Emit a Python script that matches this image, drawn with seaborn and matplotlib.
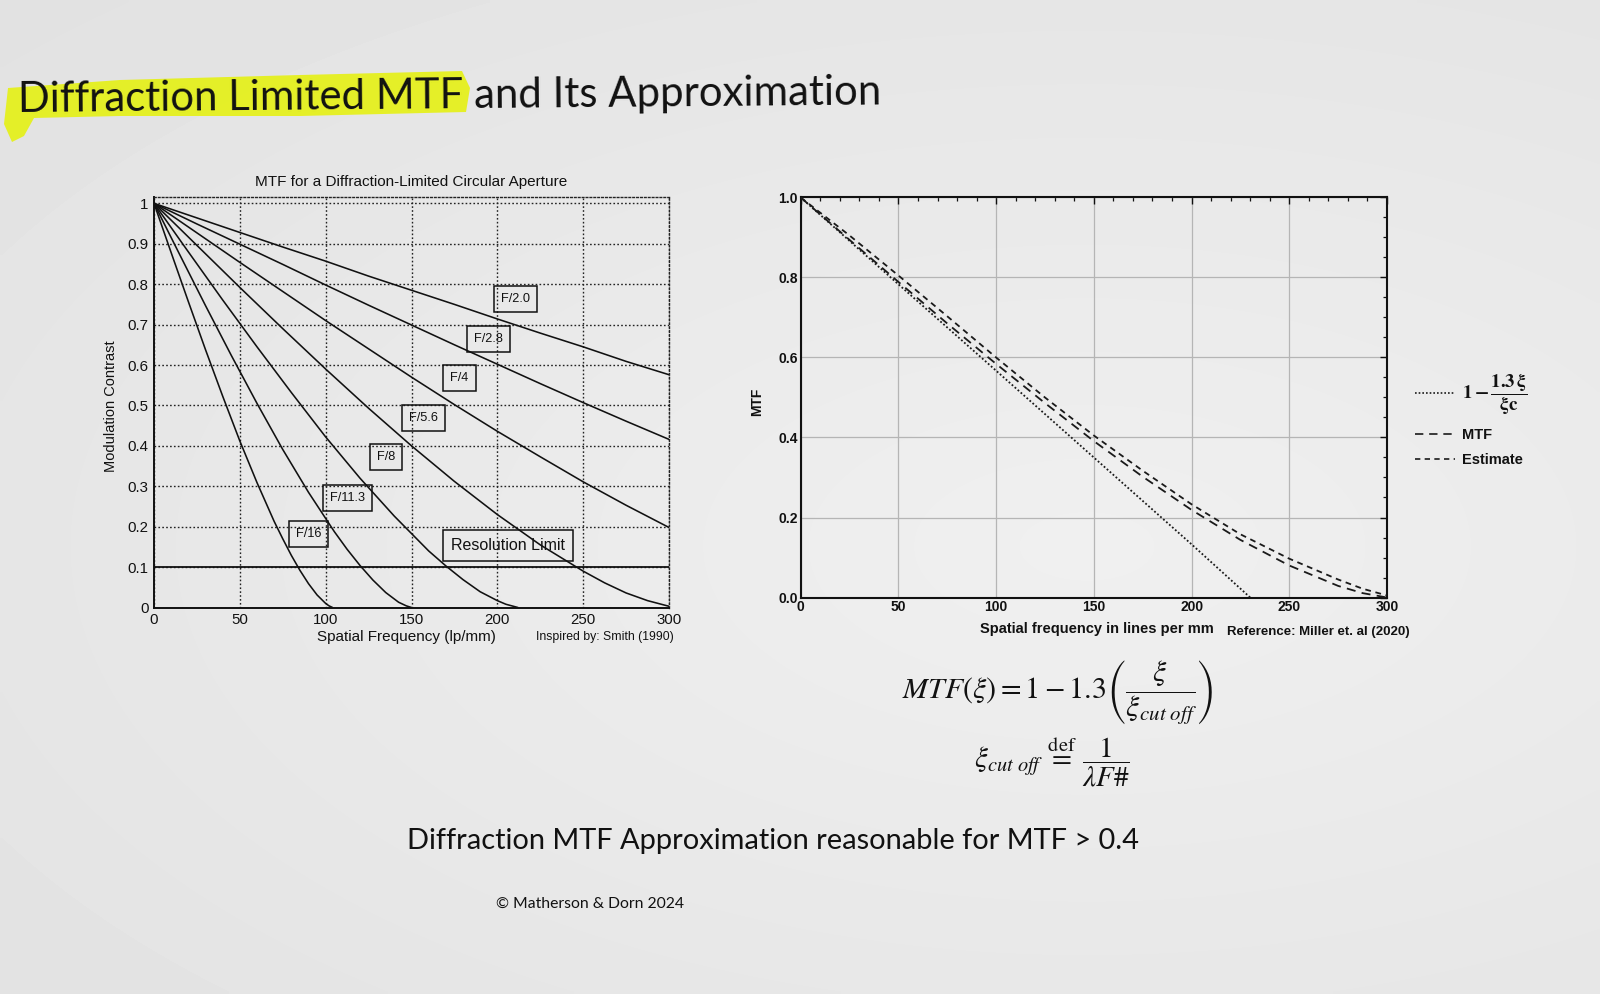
import numpy as np
import pandas as pd
import matplotlib
matplotlib.use("Agg")
import matplotlib.pyplot as plt
import seaborn as sns
from matplotlib.lines import Line2D
from matplotlib.patches import Polygon
from matplotlib.ticker import MultipleLocator

# ---------------- data ----------------
# Left chart: MTF for a diffraction-limited circular aperture
f_labels = ["F/2.0", "F/2.8", "F/4", "F/5.6", "F/8", "F/11.3", "F/16"]

freq_25 = [0, 25, 50, 75, 100, 125, 150, 175, 200, 225, 250, 275, 300]
mtf_f20 = [1.0, 0.964, 0.928, 0.892, 0.857, 0.820, 0.785, 0.750, 0.714, 0.679, 0.645, 0.609, 0.576]
mtf_f28 = [1.0, 0.949, 0.899, 0.849, 0.798, 0.748, 0.699, 0.650, 0.602, 0.554, 0.507, 0.461, 0.416]
mtf_f4 = [1.0, 0.927, 0.854, 0.782, 0.710, 0.640, 0.570, 0.502, 0.436, 0.373, 0.311, 0.253, 0.198]

freq_f56 = [0, 25, 50, 75, 100, 125, 150, 175, 200, 225, 250, 262.5, 275, 287.5, 300]
mtf_f56 = [1.0, 0.896, 0.792, 0.690, 0.590, 0.493, 0.400, 0.312, 0.230, 0.155, 0.090,
           0.061, 0.036, 0.017, 0.003]

freq_f8 = [0, 20, 40, 60, 80, 100, 120, 140, 160, 170, 180, 190, 200, 205, 212]
mtf_f8 = [1.0, 0.880, 0.761, 0.645, 0.532, 0.422, 0.320, 0.226, 0.140, 0.103, 0.069,
          0.039, 0.017, 0.008, 0.0]

freq_f113 = [0, 15, 30, 45, 60, 75, 90, 105, 112.5, 120, 127.5, 135, 142.5, 147, 150]
mtf_f113 = [1.0, 0.873, 0.747, 0.624, 0.505, 0.391, 0.285, 0.188, 0.144, 0.104, 0.068,
            0.037, 0.013, 0.004, 0.0]

freq_f16 = [0, 10, 20, 30, 40, 50, 60, 70, 75, 80, 85, 90, 95, 100, 102, 104]
mtf_f16 = [1.0, 0.878, 0.757, 0.638, 0.523, 0.412, 0.309, 0.213, 0.170, 0.129, 0.092,
           0.059, 0.031, 0.010, 0.004, 0.0]

resolution_limit = 0.1

# Right chart: MTF, estimate and linear approximation
approx_label = r"$\mathbf{1-\dfrac{1.3\,\xi}{\xi c}}$"
freq_lin = [0, 50, 100, 150, 200, 230]
mtf_lin = [1.0, 0.783, 0.567, 0.350, 0.133, 0.0]

freq_r = [0, 25, 50, 75, 100, 125, 150, 175, 200, 225, 250, 275, 287.5, 300]
mtf_true = [1.0, 0.894, 0.789, 0.685, 0.584, 0.486, 0.391, 0.302, 0.219, 0.144, 0.080,
            0.029, 0.011, 0.0]
mtf_est = [1.0, 0.905, 0.805, 0.703, 0.600, 0.500, 0.405, 0.317, 0.233, 0.158, 0.097,
           0.045, 0.022, 0.005]

# ---------------- figure ----------------
W, H = 1600, 994
sns.set_theme(style="white")
plt.rcParams["font.family"] = ["Liberation Sans", "DejaVu Sans"]
plt.rcParams["mathtext.fontset"] = "stix"

fig = plt.figure(figsize=(16, 9.94), dpi=100)
fig.patch.set_facecolor("#e6e6e6")

# photographed slide background (soft gradient)
bg = fig.add_axes([0, 0, 1, 1], zorder=-10)
yy, xx = np.mgrid[0:1:200j, 0:1:320j]
shade = 0.94 - 0.065 * np.sqrt(((xx - 0.68) / 1.1) ** 2 + ((yy - 0.55) / 0.9) ** 2)
bg.imshow(shade, cmap="gray", vmin=0, vmax=1, aspect="auto", extent=[0, 1, 0, 1],
          interpolation="bilinear")
bg.set_axis_off()


def fx(px):
    return px / W


def fy(py):
    return 1 - py / H


# title highlight and title
hl = [(8, 88), (120, 80), (300, 75), (462, 71), (470, 88), (466, 112), (300, 116),
      (120, 116), (34, 118), (24, 136), (12, 142), (4, 124)]
fig.patches.append(Polygon([(fx(a), fy(b)) for a, b in hl], closed=True,
                           transform=fig.transFigure, facecolor="#e5f01e",
                           edgecolor="none", alpha=0.95, zorder=0))
fig.text(fx(18), fy(112), "Diffraction Limited MTF and Its Approximation",
         fontsize=30.2, family=["Lato", "DejaVu Sans"], color="#111111",
         ha="left", va="baseline", rotation=0.5, zorder=2)

# ---------------- left chart ----------------
axL = fig.add_axes([fx(154), fy(607.5), fx(669) - fx(154), (607.5 - 197.3) / H])
axL.set_facecolor("none")

frames = []
curve_x = [freq_25, freq_25, freq_25, freq_f56, freq_f8, freq_f113, freq_f16]
curve_y = [mtf_f20, mtf_f28, mtf_f4, mtf_f56, mtf_f8, mtf_f113, mtf_f16]
for lab, xs, ys in zip(f_labels, curve_x, curve_y):
    frames.append(pd.DataFrame({"freq": xs, "mtf": ys, "curve": lab}))
df_left = pd.concat(frames, ignore_index=True)

sns.lineplot(data=df_left, x="freq", y="mtf", units="curve", estimator=None,
             color="#111111", linewidth=1.15, sort=False, legend=False, ax=axL, zorder=3)

axL.set_xlim(0, 300)
axL.set_ylim(0, 1.015)
axL.xaxis.set_major_locator(MultipleLocator(50))
axL.set_yticks([0, 0.1, 0.2, 0.3, 0.4, 0.5, 0.6, 0.7, 0.8, 0.9, 1.0])
axL.set_yticklabels(["0", "0.1", "0.2", "0.3", "0.4", "0.5", "0.6", "0.7", "0.8", "0.9", "1"])
axL.grid(True, color="#222222", linestyle=(0, (1.2, 1.6)), linewidth=1.0)
axL.axhline(resolution_limit, color="#111111", linewidth=1.3, zorder=2)
for s in ["left", "bottom"]:
    axL.spines[s].set_color("#111111")
    axL.spines[s].set_linewidth(1.4)
for s in ["top", "right"]:
    axL.spines[s].set_color("#222222")
    axL.spines[s].set_linewidth(1.0)
    axL.spines[s].set_linestyle((0, (1.2, 1.6)))
axL.tick_params(axis="both", labelsize=10.8, colors="#111111", length=3, direction="in", pad=4)
axL.set_xlabel("Spatial Frequency (lp/mm)", fontsize=11, color="#111111")
axL.xaxis.set_label_coords(0.491, -0.055)
axL.set_ylabel("Modulation Contrast", fontsize=10.5, color="#111111")
axL.yaxis.set_label_coords(-0.07, 0.49)
axL.set_title("MTF for a Diffraction-Limited Circular Aperture", fontsize=11,
              color="#111111", pad=8)
axL.text(0.876, -0.072, "Inspired by: Smith (1990)", transform=axL.transAxes,
         fontsize=8.8, ha="center", va="center", color="#111111")

label_pos = [(210.5, 0.764), (195, 0.664), (178, 0.569), (157, 0.470),
             (135, 0.373), (112.5, 0.270), (90, 0.182)]
for lab, (lx, ly) in zip(f_labels, label_pos):
    axL.text(lx, ly, lab, fontsize=9.2, ha="center", va="center", color="#111111", zorder=5,
             bbox=dict(boxstyle="square,pad=0.55", facecolor="none", edgecolor="#111111",
                       linewidth=1.1))
axL.text(206, 0.154, "Resolution Limit", fontsize=11.5, ha="center", va="center",
         color="#111111", zorder=5,
         bbox=dict(boxstyle="square,pad=0.5", facecolor="none", edgecolor="#111111",
                   linewidth=1.1))

# ---------------- right chart ----------------
axR = fig.add_axes([fx(800.7), fy(597.5), fx(1387) - fx(800.7), (597.5 - 197.5) / H])
axR.set_facecolor("none")

series_names = ["approx", "MTF", "Estimate"]
df_right = pd.concat([
    pd.DataFrame({"freq": freq_lin, "mtf": mtf_lin, "series": series_names[0]}),
    pd.DataFrame({"freq": freq_r, "mtf": mtf_true, "series": series_names[1]}),
    pd.DataFrame({"freq": freq_r, "mtf": mtf_est, "series": series_names[2]}),
], ignore_index=True)
dash_map = {"approx": (1, 1.2), "MTF": (5, 3.5), "Estimate": (3.2, 2.6)}
sns.lineplot(data=df_right, x="freq", y="mtf", style="series", dashes=dash_map,
             color="#1a1a1a", linewidth=1.3, estimator=None, legend=False, ax=axR, zorder=3)

axR.set_xlim(0, 300)
axR.set_ylim(0, 1.0)
axR.xaxis.set_major_locator(MultipleLocator(50))
axR.xaxis.set_minor_locator(MultipleLocator(10))
axR.yaxis.set_major_locator(MultipleLocator(0.2))
axR.yaxis.set_minor_locator(MultipleLocator(0.05))
axR.set_yticks([0, 0.2, 0.4, 0.6, 0.8, 1.0])
axR.set_yticklabels(["0.0", "0.2", "0.4", "0.6", "0.8", "1.0"])
axR.grid(True, which="major", color="#b5b5b5", linewidth=0.9)
for s in axR.spines.values():
    s.set_color("#111111")
    s.set_linewidth(1.5)
narrow = ["Liberation Sans Narrow", "Liberation Sans", "DejaVu Sans"]
axR.tick_params(axis="both", which="both", direction="in", top=True, right=True,
                colors="#111111")
axR.tick_params(axis="both", which="major", length=5, width=1.0, labelsize=10, pad=2)
axR.tick_params(axis="both", which="minor", length=3, width=0.9)
for lbl in axR.get_xticklabels() + axR.get_yticklabels():
    lbl.set_family(narrow)
    lbl.set_fontweight("bold")
axR.set_xlabel("Spatial frequency in lines per mm", fontsize=10.5, family=narrow,
               fontweight="bold", color="#111111")
axR.xaxis.set_label_coords(0.506, -0.062)
axR.set_ylabel("MTF", fontsize=10, family=narrow, fontweight="bold", color="#111111")
axR.yaxis.set_label_coords(-0.062, 0.49)
axR.text(0.883, -0.086, "Reference: Miller et. al (2020)", transform=axR.transAxes,
         fontsize=9.5, family=narrow, fontweight="bold", ha="center", va="center",
         color="#111111")

handles = [Line2D([], [], color="#1a1a1a", lw=1.2, linestyle=(0, dash_map[n]))
           for n in series_names]
leg = fig.legend(handles, [approx_label, "MTF", "Estimate"], loc="upper left",
                 bbox_to_anchor=(fx(1402), fy(358)), frameon=False, handlelength=2.7,
                 handletextpad=0.5, labelspacing=0.75,
                 prop={"family": narrow, "weight": "bold", "size": 10.5})
for t in leg.get_texts():
    t.set_color("#111111")
leg.get_texts()[0].set_fontsize(13.5)

# ---------------- equations and captions ----------------
fig.text(fx(1058), fy(693),
         r"$MTF(\xi) = 1 - 1.3\left(\dfrac{\xi}{\xi_{cut\ off}}\right)$",
         fontsize=21.5, ha="center", va="center", color="#111111")
fig.text(fx(1052), fy(762),
         r"$\xi_{cut\ off}\ \overset{\mathrm{def}}{=}\ \dfrac{1}{\lambda F\#}$",
         fontsize=21, ha="center", va="center", color="#111111")
fig.text(fx(773), fy(841), "Diffraction MTF Approximation reasonable for MTF > 0.4",
         fontsize=20.9, family=["Lato", "DejaVu Sans"], ha="center", va="center",
         color="#111111")
fig.text(fx(590), fy(904), "\u00a9 Matherson & Dorn 2024", fontsize=11.3,
         family=["Lato", "DejaVu Sans"], ha="center", va="center", color="#111111")

fig.savefig("out.png", dpi=100, facecolor=fig.get_facecolor())
